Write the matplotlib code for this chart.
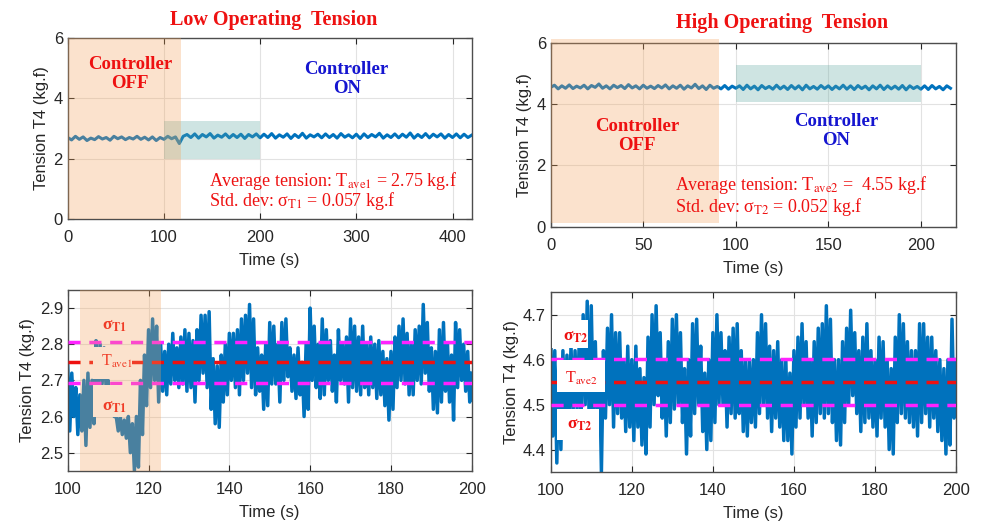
import numpy as np
import matplotlib
matplotlib.use("Agg")
import matplotlib.pyplot as plt
from matplotlib.patches import Rectangle

# ---- data ----
# top-left: low tension, sampled every 4 s from 0 to 420 s
low_full = [2.70, 2.62, 2.74, 2.64, 2.72, 2.60, 2.68, 2.63, 2.73, 2.65,
            2.70, 2.61, 2.74, 2.66, 2.72, 2.63, 2.70, 2.65, 2.74, 2.64,
            2.71, 2.62, 2.72, 2.60, 2.70, 2.64, 2.74, 2.66, 2.72, 2.50,
            2.74, 2.80, 2.70, 2.82, 2.68, 2.80, 2.72, 2.83, 2.68, 2.78,
            2.71, 2.82, 2.69, 2.80, 2.70, 2.81, 2.67, 2.80, 2.72, 2.82,
            2.69, 2.81, 2.70, 2.83, 2.68, 2.79, 2.71, 2.82, 2.67, 2.80,
            2.70, 2.84, 2.68, 2.79, 2.72, 2.81, 2.69, 2.82, 2.70, 2.80,
            2.68, 2.83, 2.71, 2.79, 2.69, 2.81, 2.67, 2.82, 2.70, 2.80,
            2.72, 2.84, 2.68, 2.79, 2.70, 2.82, 2.69, 2.81, 2.71, 2.85,
            2.68, 2.80, 2.70, 2.83, 2.69, 2.81, 2.72, 2.82, 2.68, 2.80,
            2.70, 2.82, 2.69, 2.81, 2.70, 2.78]
low_full_dt = 4.0

# top-right: high tension, sampled every 2 s from 0 to 216 s
high_full = [4.55, 4.62, 4.50, 4.60, 4.52, 4.63, 4.51, 4.59, 4.53, 4.62,
             4.50, 4.61, 4.55, 4.66, 4.52, 4.60, 4.50, 4.62, 4.54, 4.61,
             4.51, 4.64, 4.53, 4.60, 4.50, 4.62, 4.52, 4.59, 4.51, 4.61,
             4.53, 4.63, 4.50, 4.60, 4.52, 4.62, 4.49, 4.60, 4.53, 4.65,
             4.51, 4.60, 4.48, 4.62, 4.52, 4.58, 4.50, 4.61, 4.49, 4.59,
             4.52, 4.60, 4.48, 4.62, 4.50, 4.59, 4.47, 4.61, 4.51, 4.58,
             4.49, 4.62, 4.50, 4.59, 4.48, 4.61, 4.50, 4.60, 4.47, 4.62,
             4.50, 4.58, 4.49, 4.61, 4.51, 4.60, 4.48, 4.59, 4.50, 4.62,
             4.49, 4.60, 4.48, 4.61, 4.51, 4.59, 4.47, 4.60, 4.50, 4.62,
             4.48, 4.60, 4.50, 4.59, 4.49, 4.61, 4.47, 4.60, 4.51, 4.58,
             4.49, 4.60, 4.48, 4.61, 4.50, 4.58, 4.47, 4.60, 4.52]
high_full_dt = 2.0

# bottom-left: zoom 100-200 s, every 0.5 s
low_zoom = [2.74, 2.56, 2.72, 2.60, 2.68, 2.55, 2.66, 2.56, 2.70, 2.52,
            2.72, 2.57, 2.70, 2.58, 2.81, 2.68, 2.80, 2.69, 2.79, 2.68,
            2.70, 2.62, 2.68, 2.60, 2.60, 2.56, 2.60, 2.55, 2.59, 2.54,
            2.60, 2.50, 2.58, 2.45, 2.60, 2.46, 2.70, 2.55, 2.77, 2.63,
            2.84, 2.68, 2.87, 2.70, 2.85, 2.64, 2.80, 2.67, 2.78, 2.66,
            2.80, 2.69, 2.83, 2.70, 2.79, 2.68, 2.82, 2.69, 2.84, 2.67,
            2.83, 2.68, 2.81, 2.64, 2.84, 2.70, 2.88, 2.72, 2.88, 2.68,
            2.89, 2.62, 2.76, 2.58, 2.74, 2.57, 2.77, 2.64, 2.80, 2.66,
            2.83, 2.70, 2.83, 2.68, 2.84, 2.66, 2.87, 2.70, 2.88, 2.72,
            2.91, 2.68, 2.87, 2.66, 2.79, 2.67, 2.77, 2.62, 2.80, 2.63,
            2.86, 2.69, 2.85, 2.69, 2.80, 2.64, 2.86, 2.70, 2.87, 2.71,
            2.79, 2.67, 2.77, 2.65, 2.79, 2.66, 2.75, 2.60, 2.80, 2.62,
            2.90, 2.70, 2.85, 2.68, 2.80, 2.65, 2.87, 2.66, 2.84, 2.70,
            2.81, 2.67, 2.77, 2.64, 2.84, 2.70, 2.80, 2.69, 2.82, 2.64,
            2.87, 2.68, 2.85, 2.67, 2.82, 2.66, 2.85, 2.68, 2.80, 2.66,
            2.82, 2.68, 2.80, 2.65, 2.81, 2.66, 2.78, 2.63, 2.76, 2.59,
            2.78, 2.62, 2.82, 2.68, 2.85, 2.70, 2.87, 2.69, 2.83, 2.66,
            2.80, 2.66, 2.84, 2.70, 2.85, 2.69, 2.91, 2.72, 2.86, 2.67,
            2.79, 2.62, 2.78, 2.61, 2.84, 2.64, 2.86, 2.67, 2.80, 2.64,
            2.77, 2.59, 2.86, 2.68, 2.84, 2.70, 2.80, 2.67, 2.78, 2.64,
            2.72]

# bottom-right: zoom 100-200 s, every 0.5 s
high_zoom = [4.65, 4.43, 4.62, 4.37, 4.60, 4.40, 4.62, 4.46, 4.61, 4.47,
             4.63, 4.48, 4.62, 4.49, 4.63, 4.48, 4.70, 4.50, 4.73, 4.45,
             4.72, 4.48, 4.64, 4.46, 4.60, 4.35, 4.62, 4.47, 4.67, 4.50,
             4.70, 4.45, 4.66, 4.48, 4.66, 4.47, 4.60, 4.44, 4.63, 4.45,
             4.60, 4.42, 4.63, 4.45, 4.58, 4.41, 4.56, 4.39, 4.65, 4.45,
             4.70, 4.50, 4.72, 4.52, 4.66, 4.47, 4.60, 4.43, 4.64, 4.46,
             4.69, 4.49, 4.70, 4.50, 4.66, 4.46, 4.58, 4.39, 4.60, 4.43,
             4.68, 4.48, 4.69, 4.50, 4.63, 4.44, 4.57, 4.40, 4.60, 4.42,
             4.66, 4.46, 4.70, 4.50, 4.66, 4.50, 4.62, 4.45, 4.65, 4.48,
             4.67, 4.47, 4.68, 4.48, 4.62, 4.44, 4.60, 4.43, 4.60, 4.46,
             4.60, 4.45, 4.66, 4.48, 4.70, 4.50, 4.68, 4.47, 4.63, 4.44,
             4.62, 4.47, 4.64, 4.45, 4.60, 4.42, 4.60, 4.42, 4.57, 4.39,
             4.62, 4.45, 4.65, 4.47, 4.68, 4.50, 4.64, 4.47, 4.60, 4.43,
             4.64, 4.46, 4.67, 4.48, 4.68, 4.47, 4.72, 4.48, 4.69, 4.46,
             4.60, 4.42, 4.60, 4.41, 4.64, 4.46, 4.67, 4.50, 4.71, 4.52,
             4.66, 4.48, 4.62, 4.44, 4.65, 4.46, 4.68, 4.47, 4.62, 4.45,
             4.60, 4.43, 4.65, 4.47, 4.64, 4.45, 4.60, 4.40, 4.58, 4.39,
             4.65, 4.46, 4.70, 4.48, 4.68, 4.47, 4.64, 4.46, 4.62, 4.45,
             4.62, 4.43, 4.68, 4.46, 4.68, 4.48, 4.65, 4.45, 4.65, 4.47,
             4.62, 4.44, 4.60, 4.42, 4.58, 4.39, 4.60, 4.41, 4.69, 4.47,
             4.60]
zoom_t0 = 100.0
zoom_dt = 0.5

t_ave = [2.75, 4.55]
sigma = [0.057, 0.052]

# ---- style ----
plt.rcParams['font.family'] = ['Liberation Sans', 'DejaVu Sans']
plt.rcParams['mathtext.fontset'] = 'stix'
SERIF = ['Liberation Serif', 'DejaVu Serif']
LINE = '#0072BD'
ORANGE = '#f5a25a'
TEAL = '#5fa8a0'
RED = '#ee1111'
BLUE = '#1515d0'
MAGENTA = '#ff22ff'

fig = plt.figure(figsize=(10.05, 5.25), dpi=100)
ax_tl = fig.add_axes([0.0674, 0.5829, 0.402, 0.3448])
ax_tr = fig.add_axes([0.548, 0.5682, 0.4033, 0.35])
ax_bl = fig.add_axes([0.0674, 0.1034, 0.402, 0.3442])
ax_br = fig.add_axes([0.548, 0.1010, 0.4033, 0.3423])


def matlab_look(ax):
    ax.grid(True, color='#e2e2e2', lw=0.8)
    ax.set_axisbelow(True)
    ax.tick_params(direction='in', length=4, top=True, right=True,
                   labelsize=12, colors='#262626')
    ax.tick_params(axis='x', pad=8)
    for s in ax.spines.values():
        s.set_color('#4d4d4d')
        s.set_linewidth(1.0)
    ax.set_xlabel('Time (s)', fontsize=12, color='#262626', labelpad=6)
    ax.set_ylabel('Tension T4 (kg.f)', fontsize=12, color='#262626', labelpad=3)


# ---- top-left ----
t = np.arange(len(low_full)) * low_full_dt
ax_tl.plot(t, low_full, color=LINE, lw=2.2, zorder=2)
ax_tl.add_patch(Rectangle((100, 2.0), 100, 1.25, color=TEAL, alpha=0.3, lw=0, zorder=3))
ax_tl.axvspan(0, 118, color=ORANGE, alpha=0.3, lw=0, zorder=4)
ax_tl.set_xlim(0, 420)
ax_tl.set_ylim(0, 6)
ax_tl.set_xticks([0, 100, 200, 300, 400])
ax_tl.set_yticks([0, 2, 4, 6])
matlab_look(ax_tl)
ax_tl.text(64.8, 4.81, 'Controller\nOFF', color=RED, family=SERIF, fontsize=13.5,
           fontweight='bold', ha='center', va='center', linespacing=1.2, zorder=5)
ax_tl.text(290, 4.64, 'Controller\nON', color=BLUE, family=SERIF, fontsize=13.5,
           fontweight='bold', ha='center', va='center', linespacing=1.2, zorder=5)
ax_tl.text(147, 1.26, r'Average tension: T$_{\rm ave1}$ = %.2f kg.f' % t_ave[0],
           color=RED, family=SERIF, fontsize=13, va='center', zorder=5)
ax_tl.text(147, 0.6, r'Std. dev: σ$_{\rm T1}$ = %.3f kg.f' % sigma[0],
           color=RED, family=SERIF, fontsize=13, va='center', zorder=5)

# ---- top-right ----
t = np.arange(len(high_full)) * high_full_dt
ax_tr.plot(t, high_full, color=LINE, lw=2.2, zorder=2)
ax_tr.add_patch(Rectangle((100, 4.08), 100, 1.2, color=TEAL, alpha=0.3, lw=0, zorder=3))
ax_tr.add_patch(Rectangle((0, 0.12), 91, 6.0, color=ORANGE, alpha=0.3, lw=0, zorder=4,
                          clip_on=False))
ax_tr.set_xlim(0, 219)
ax_tr.set_ylim(0, 6)
ax_tr.set_xticks([0, 50, 100, 150, 200])
ax_tr.set_yticks([0, 2, 4, 6])
matlab_look(ax_tr)
ax_tr.text(46.6, 2.96, 'Controller\nOFF', color=RED, family=SERIF, fontsize=13.5,
           fontweight='bold', ha='center', va='center', linespacing=1.2, zorder=5)
ax_tr.text(154, 3.13, 'Controller\nON', color=BLUE, family=SERIF, fontsize=13.5,
           fontweight='bold', ha='center', va='center', linespacing=1.2, zorder=5)
ax_tr.text(67, 1.36, r'Average tension: T$_{\rm ave2}$ =  %.2f kg.f' % t_ave[1],
           color=RED, family=SERIF, fontsize=13, va='center', zorder=5)
ax_tr.text(67, 0.64, r'Std. dev: σ$_{\rm T2}$ = %.3f kg.f' % sigma[1],
           color=RED, family=SERIF, fontsize=13, va='center', zorder=5)


def zoom_panel(ax, vals, ave, sd, tag, boxes, labels):
    tz = zoom_t0 + np.arange(len(vals)) * zoom_dt
    ax.plot(tz, vals, color=LINE, lw=2.5, zorder=2)
    for y, c in [(ave + sd, MAGENTA), (ave, RED), (ave - sd, MAGENTA)]:
        ax.axhline(y, color=c, lw=2.5, ls=(0, (3.5, 2.5)), zorder=3)
    for (x0, y0, w, h) in boxes:
        ax.add_patch(Rectangle((x0, y0), w, h, facecolor='white', lw=0, zorder=4))
    (xs1, ys1), (xa, ya), (xs2, ys2) = labels
    kw = dict(color=RED, family=SERIF, ha='center', va='center', zorder=5)
    ax.text(xs1, ys1, r'σ$_{\mathbf{T%s}}$' % tag, fontsize=12.5, fontweight='bold', **kw)
    ax.text(xa, ya, r'T$_{\rm ave%s}$' % tag, fontsize=11.5, **kw)
    ax.text(xs2, ys2, r'σ$_{\mathbf{T%s}}$' % tag, fontsize=12.5, fontweight='bold', **kw)
    ax.set_xlim(100, 200)
    ax.set_xticks(np.arange(100, 201, 20))
    matlab_look(ax)


# ---- bottom-left ----
zoom_panel(ax_bl, low_zoom, t_ave[0], sigma[0], '1',
           [(106.3, 2.815, 9.5, 0.06), (106.3, 2.705, 9.5, 0.087), (106.3, 2.599, 8.0, 0.087)],
           [(111.7, 2.852), (112.1, 2.751), (111.7, 2.626)])
ax_bl.axvspan(103, 123, color=ORANGE, alpha=0.3, lw=0, zorder=6)
ax_bl.set_ylim(2.45, 2.95)
ax_bl.set_yticks([2.5, 2.6, 2.7, 2.8, 2.9])

# ---- bottom-right ----
zoom_panel(ax_br, high_zoom, t_ave[1], sigma[1], '2',
           [(100.2, 4.625, 9.0, 0.063), (101.5, 4.529, 12.0, 0.07), (101.5, 4.421, 10.5, 0.07)],
           [(106.2, 4.651), (107.6, 4.558), (107.2, 4.454)])
ax_br.set_ylim(4.35, 4.75)
ax_br.set_yticks([4.4, 4.5, 4.6, 4.7])

# ---- titles ----
fig.text(0.2726, 0.962, 'Low Operating  Tension', color=RED, family=SERIF,
         fontsize=14.5, fontweight='bold', ha='center', va='center')
fig.text(0.778, 0.956, 'High Operating  Tension', color=RED, family=SERIF,
         fontsize=14.5, fontweight='bold', ha='center', va='center')

fig.savefig('out.png', dpi=100)
